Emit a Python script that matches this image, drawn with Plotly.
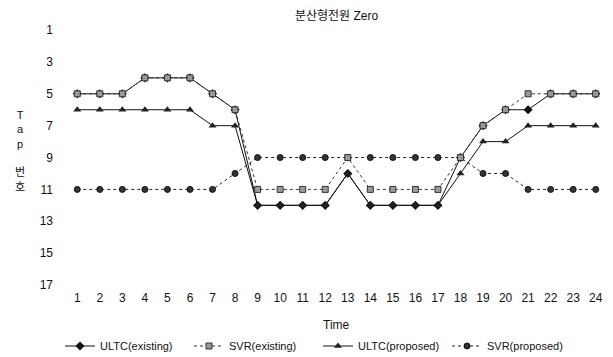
import plotly.graph_objects as go

hours = list(range(1, 25))
ultc_existing = [5, 5, 5, 4, 4, 4, 5, 6, 12, 12, 12, 12, 10, 12, 12, 12, 12, 9, 7, 6, 6, 5, 5, 5]
svr_existing = [5, 5, 5, 4, 4, 4, 5, 6, 11, 11, 11, 11, 9, 11, 11, 11, 11, 9, 7, 6, 5, 5, 5, 5]
ultc_proposed = [6, 6, 6, 6, 6, 6, 7, 7, 12, 12, 12, 12, 10, 12, 12, 12, 12, 10, 8, 8, 7, 7, 7, 7]
svr_proposed = [11, 11, 11, 11, 11, 11, 11, 10, 9, 9, 9, 9, 9, 9, 9, 9, 9, 9, 10, 10, 11, 11, 11, 11]
y_ticks = [1, 3, 5, 7, 9, 11, 13, 15, 17]

FONT = "Liberation Sans, Arial, Noto Sans CJK KR, sans-serif"

fig = go.Figure()
fig.add_trace(go.Scatter(
    x=hours, y=ultc_existing, name="ULTC(existing)", mode="lines+markers",
    line=dict(color="#111111", width=1),
    marker=dict(symbol="diamond", size=7, color="#111111"),
    legendrank=1))
fig.add_trace(go.Scatter(
    x=hours, y=ultc_proposed, name="ULTC(proposed)", mode="lines+markers",
    line=dict(color="#111111", width=1),
    marker=dict(symbol="triangle-up", size=7, color="#222222"),
    legendrank=3))
fig.add_trace(go.Scatter(
    x=hours, y=svr_proposed, name="SVR(proposed)", mode="lines+markers",
    line=dict(color="#222222", width=1, dash="dot"),
    marker=dict(symbol="circle", size=6, color="#333333", line=dict(color="#111111", width=1)),
    legendrank=4))
fig.add_trace(go.Scatter(
    x=hours, y=svr_existing, name="SVR(existing)", mode="lines+markers",
    line=dict(color="#333333", width=1, dash="dot"),
    marker=dict(symbol="square", size=6, color="#9a9a9a", line=dict(color="#333333", width=1)),
    legendrank=2))

fig.update_layout(
    width=613, height=357,
    margin=dict(l=66, r=6, t=17, b=68, autoexpand=False),
    paper_bgcolor="white", plot_bgcolor="white",
    font=dict(family=FONT, size=12, color="#111111"),
    title=dict(text="분산형전원 Zero", x=0.5, xref="paper", xanchor="center",
               y=1 - 16 / 357, yref="container", yanchor="middle",
               font=dict(family=FONT, size=12, color="#111111")),
    showlegend=True,
    legend=dict(orientation="h", x=318 / 613, xanchor="center", xref="container",
                y=1 - 346 / 357, yref="container", yanchor="middle",
                font=dict(family=FONT, size=11, color="#111111"),
                entrywidth=84, entrywidthmode="pixels", itemwidth=30,
                bgcolor="rgba(0,0,0,0)"),
    xaxis=dict(range=[0.5, 24.5], tickmode="array", tickvals=hours,
               showline=False, showgrid=False, zeroline=False, ticks=""),
    yaxis=dict(range=[17.25, 0.18], tickmode="array", tickvals=y_ticks,
               showline=False, showgrid=False, zeroline=False, ticks="",
               ticklabelstandoff=12),
    annotations=[
        dict(text="Time", x=0.5, xref="paper", y=(289 - 325) / 272, yref="paper",
             xanchor="center", yanchor="middle", showarrow=False,
             font=dict(family=FONT, size=12, color="#111111")),
        dict(text="T<br>a<br>p<br><br>번<br>호", x=(20 - 66) / 541, xref="paper",
             y=(289 - 151) / 272, yref="paper", xanchor="center", yanchor="middle",
             showarrow=False, align="center",
             font=dict(family=FONT, size=11, color="#111111")),
    ],
)

fig.write_html("out.html", config={"displayModeBar": False},
               post_script="document.body.style.margin='0';document.body.style.overflow='hidden';")
